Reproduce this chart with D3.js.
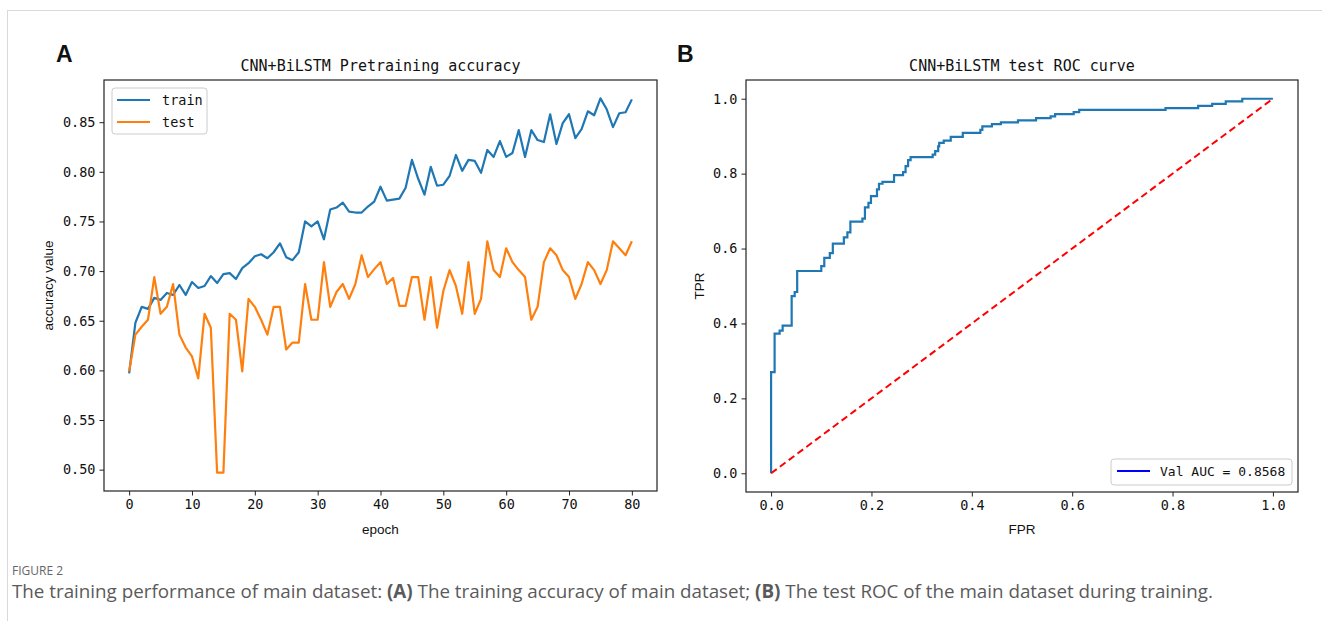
<!DOCTYPE html>
<html>
<head>
<meta charset="utf-8">
<script src="https://cdn.jsdelivr.net/npm/d3@7"></script>
<style>
  body { margin: 0; background: #fff; }
  text { fill: #111; }
</style>
</head>
<body>
<script>
"use strict";

// panel A: accuracy per epoch
var epochs = d3.range(0, 81);
var trainAcc = [
  0.597, 0.648, 0.664, 0.662, 0.673, 0.671, 0.678, 0.676, 0.686, 0.676,
  0.689, 0.683, 0.685, 0.695, 0.688, 0.697, 0.698, 0.692, 0.703, 0.708,
  0.715, 0.717, 0.713, 0.719, 0.728, 0.714, 0.711, 0.719, 0.750, 0.745,
  0.750, 0.732, 0.762, 0.764, 0.769, 0.760, 0.759, 0.759, 0.765, 0.770,
  0.785, 0.771, 0.772, 0.773, 0.784, 0.812, 0.793, 0.777, 0.805, 0.786,
  0.787, 0.796, 0.817, 0.801, 0.812, 0.811, 0.799, 0.822, 0.815, 0.831,
  0.815, 0.819, 0.842, 0.815, 0.842, 0.832, 0.830, 0.858, 0.828, 0.849,
  0.858, 0.834, 0.843, 0.861, 0.857, 0.874, 0.863, 0.845, 0.859, 0.860,
  0.873
];
var testAcc = [
  0.599, 0.636, 0.644, 0.651, 0.694, 0.657, 0.664, 0.687, 0.636, 0.623,
  0.614, 0.592, 0.657, 0.643, 0.497, 0.497, 0.657, 0.651, 0.599, 0.672,
  0.664, 0.651, 0.636, 0.664, 0.664, 0.621, 0.628, 0.628, 0.687, 0.651,
  0.651, 0.709, 0.664, 0.679, 0.687, 0.672, 0.687, 0.716, 0.694, 0.702,
  0.709, 0.687, 0.693, 0.665, 0.665, 0.694, 0.694, 0.651, 0.694, 0.643,
  0.680, 0.701, 0.685, 0.657, 0.709, 0.657, 0.672, 0.730, 0.701, 0.694,
  0.723, 0.709, 0.701, 0.694, 0.651, 0.664, 0.709, 0.723, 0.716, 0.701,
  0.694, 0.672, 0.687, 0.709, 0.701, 0.687, 0.701, 0.730, 0.723, 0.716,
  0.730
];
var accTicksX = [0, 10, 20, 30, 40, 50, 60, 70, 80];
var accTicksY = [0.50, 0.55, 0.60, 0.65, 0.70, 0.75, 0.80, 0.85];

// panel B: ROC corners (fpr, tpr), drawn as steps
var rocFpr = [
  0, 0, 0.007, 0.017, 0.023, 0.041, 0.047, 0.052, 0.100, 0.106,
  0.117, 0.123, 0.145, 0.152, 0.158, 0.182, 0.187, 0.194, 0.199, 0.211,
  0.215, 0.222, 0.245, 0.263, 0.268, 0.273, 0.278, 0.322, 0.327, 0.333,
  0.335, 0.344, 0.358, 0.382, 0.417, 0.421, 0.440, 0.458, 0.492, 0.528,
  0.557, 0.566, 0.603, 0.614, 0.786, 0.851, 0.879, 0.906, 0.939, 1.0
];
var rocTpr = [
  0, 0.270, 0.373, 0.381, 0.394, 0.473, 0.484, 0.540, 0.553, 0.575,
  0.588, 0.613, 0.630, 0.643, 0.672, 0.680, 0.710, 0.722, 0.740, 0.758,
  0.773, 0.778, 0.796, 0.804, 0.820, 0.836, 0.844, 0.851, 0.860, 0.873,
  0.882, 0.888, 0.898, 0.909, 0.917, 0.926, 0.932, 0.937, 0.942, 0.948,
  0.953, 0.959, 0.964, 0.970, 0.975, 0.981, 0.986, 0.993, 1.0, 1.0
];
var rocTicks = [0, 0.2, 0.4, 0.6, 0.8, 1.0];
var aucLabel = "Val AUC = 0.8568";

var width = 1322, height = 621;
var mono = "'DejaVu Sans Mono', monospace";
var sans = "'Liberation Sans', Arial, sans-serif";

var svg = d3.select("body").append("svg")
  .attr("width", width)
  .attr("height", height);

svg.append("rect").attr("width", width).attr("height", height).attr("fill", "#fff");

// page frame
svg.append("line").attr("x1", 7).attr("x2", width).attr("y1", 10.5).attr("y2", 10.5)
  .attr("stroke", "#d9d9d9");
svg.append("line").attr("x1", 7.5).attr("x2", 7.5).attr("y1", 10).attr("y2", height)
  .attr("stroke", "#d9d9d9");

function panel(box, xs, ys, xTicks, yTicks, fmtX, fmtY, title, xLabel, yLabel, letter) {
  var g = svg.append("g");

  g.append("text")
    .attr("x", box.letterX).attr("y", 62)
    .attr("font-family", sans).attr("font-weight", "bold").attr("font-size", 23)
    .text(letter);

  g.append("text")
    .attr("x", (box.x0 + box.x1) / 2).attr("y", 71)
    .attr("text-anchor", "middle")
    .attr("font-family", mono).attr("font-size", 15)
    .text(title);

  var ax = g.append("g")
    .attr("transform", "translate(0," + box.y1 + ")")
    .call(d3.axisBottom(xs).tickValues(xTicks).tickFormat(fmtX).tickSize(4.5).tickPadding(4));
  var ay = g.append("g")
    .attr("transform", "translate(" + box.x0 + ",0)")
    .call(d3.axisLeft(ys).tickValues(yTicks).tickFormat(fmtY).tickSize(4.5).tickPadding(4));

  [ax, ay].forEach(function (a) {
    a.select(".domain").remove();
    a.selectAll("line").attr("stroke", "#222").attr("stroke-width", 1);
    a.selectAll("text").attr("font-family", mono).attr("font-size", 13.5).attr("fill", "#222");
  });

  g.append("text")
    .attr("x", (box.x0 + box.x1) / 2).attr("y", 534)
    .attr("text-anchor", "middle")
    .attr("font-family", sans).attr("font-size", 13.5)
    .text(xLabel);

  g.append("text")
    .attr("transform", "translate(" + box.yLabelX + "," + (box.y0 + box.y1) / 2 + ") rotate(-90)")
    .attr("text-anchor", "middle")
    .attr("font-family", sans).attr("font-size", 13.5)
    .text(yLabel);

  return g;
}

// ---- panel A
var boxA = { x0: 104, x1: 657, y0: 80, y1: 491, letterX: 56, yLabelX: 53 };
var xA = d3.scaleLinear().domain([-4, 84]).range([boxA.x0, boxA.x1]);
var yA = d3.scaleLinear().domain([0.4785, 0.8925]).range([boxA.y1, boxA.y0]);

var gA = panel(boxA, xA, yA, accTicksX, accTicksY, d3.format("d"), d3.format(".2f"),
  "CNN+BiLSTM Pretraining accuracy", "epoch", "accuracy value", "A");

var accLine = function (vals) {
  return d3.line()
    .x(function (d, i) { return xA(epochs[i]); })
    .y(function (d) { return yA(d); })(vals);
};

gA.append("path").attr("d", accLine(trainAcc))
  .attr("fill", "none").attr("stroke", "#1f77b4").attr("stroke-width", 2.2).attr("stroke-linejoin", "round");
gA.append("path").attr("d", accLine(testAcc))
  .attr("fill", "none").attr("stroke", "#ff7f0e").attr("stroke-width", 2.2).attr("stroke-linejoin", "round");

gA.append("rect")
  .attr("x", boxA.x0).attr("y", boxA.y0)
  .attr("width", boxA.x1 - boxA.x0).attr("height", boxA.y1 - boxA.y0)
  .attr("fill", "none").attr("stroke", "#222").attr("stroke-width", 1.2);

var legA = gA.append("g");
legA.append("rect")
  .attr("x", 112).attr("y", 88).attr("width", 95).attr("height", 46).attr("rx", 3)
  .attr("fill", "#fff").attr("fill-opacity", 0.8).attr("stroke", "#ccc");
[["train", "#1f77b4"], ["test", "#ff7f0e"]].forEach(function (d, i) {
  var y = 100 + i * 22;
  legA.append("line").attr("x1", 117).attr("x2", 150).attr("y1", y).attr("y2", y)
    .attr("stroke", d[1]).attr("stroke-width", 2.2);
  legA.append("text").attr("x", 162).attr("y", y + 4.5)
    .attr("font-family", mono).attr("font-size", 13.5).text(d[0]);
});

// ---- panel B
var boxB = { x0: 746, x1: 1298, y0: 80, y1: 492, letterX: 677, yLabelX: 704 };
var xB = d3.scaleLinear().domain([-0.05, 1.05]).range([boxB.x0, boxB.x1]);
var yB = d3.scaleLinear().domain([-0.05, 1.05]).range([boxB.y1, boxB.y0]);

var gB = panel(boxB, xB, yB, rocTicks, rocTicks, d3.format(".1f"), d3.format(".1f"),
  "CNN+BiLSTM test ROC curve", "FPR", "TPR", "B");

gB.append("path")
  .attr("d", d3.line().curve(d3.curveStepAfter)
    .x(function (d, i) { return xB(rocFpr[i]); })
    .y(function (d) { return yB(d); })(rocTpr))
  .attr("fill", "none").attr("stroke", "#1f77b4").attr("stroke-width", 2.2);

gB.append("line")
  .attr("x1", xB(0)).attr("y1", yB(0)).attr("x2", xB(1)).attr("y2", yB(1))
  .attr("stroke", "#ff0000").attr("stroke-width", 2).attr("stroke-dasharray", "7,4");

gB.append("rect")
  .attr("x", boxB.x0).attr("y", boxB.y0)
  .attr("width", boxB.x1 - boxB.x0).attr("height", boxB.y1 - boxB.y0)
  .attr("fill", "none").attr("stroke", "#222").attr("stroke-width", 1.2);

var legB = gB.append("g");
legB.append("rect")
  .attr("x", 1111).attr("y", 459).attr("width", 181).attr("height", 26).attr("rx", 3)
  .attr("fill", "#fff").attr("fill-opacity", 0.8).attr("stroke", "#ccc");
legB.append("line").attr("x1", 1117).attr("x2", 1150).attr("y1", 471).attr("y2", 471)
  .attr("stroke", "#0000ff").attr("stroke-width", 2);
legB.append("text").attr("x", 1160).attr("y", 476)
  .attr("font-family", mono).attr("font-size", 13).text(aucLabel);

// ---- caption
svg.append("text")
  .attr("x", 12).attr("y", 575)
  .attr("font-family", "'Open Sans', sans-serif").attr("font-size", 12)
  .style("fill", "#666")
  .text("FIGURE 2");

var cap = svg.append("text")
  .attr("x", 12).attr("y", 598)
  .attr("font-family", "'Open Sans', sans-serif").attr("font-size", 18.8)
  .style("fill", "#5a5a5a");
[
  ["The training performance of main dataset: ", false],
  ["(A)", true],
  [" The training accuracy of main dataset; ", false],
  ["(B)", true],
  [" The test ROC of the main dataset during training.", false]
].forEach(function (p) {
  cap.append("tspan").attr("font-weight", p[1] ? "bold" : null).text(p[0]);
});
</script>
</body>
</html>
